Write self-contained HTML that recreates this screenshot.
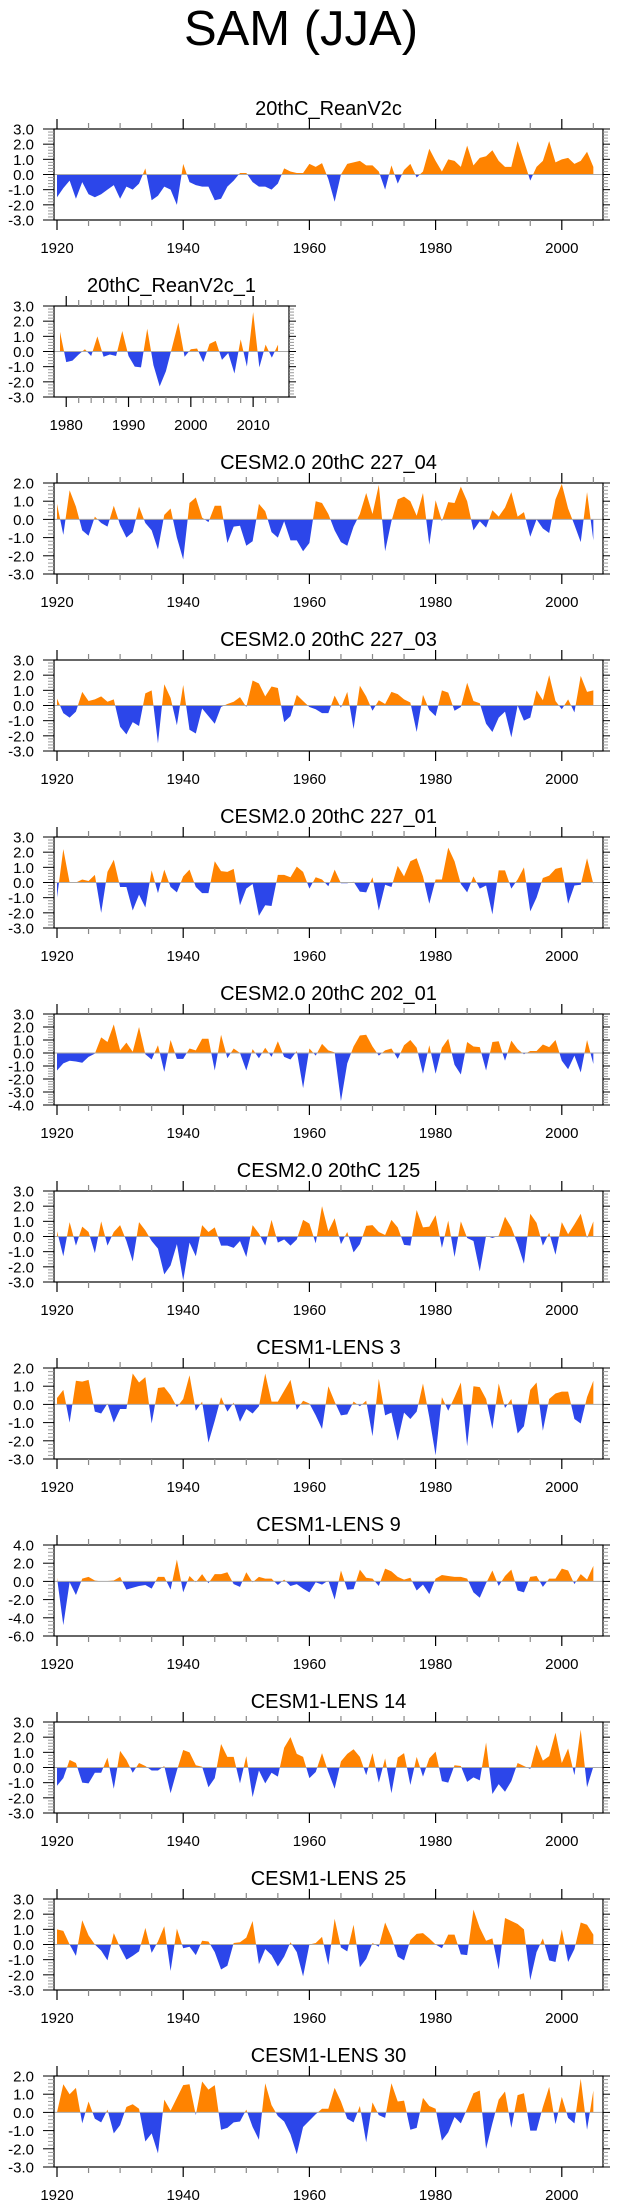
<!DOCTYPE html>
<html><head><meta charset="utf-8"><style>
html,body{margin:0;padding:0;background:#fff;}
svg{display:block;font-family:"Liberation Sans",Arial,sans-serif;}
</style></head><body>
<svg id="fig" width="623" height="2209" viewBox="0 0 623 2209" xmlns="http://www.w3.org/2000/svg">
<text x="301" y="45" font-size="49" text-anchor="middle">SAM (JJA)</text>
</svg>
<script>
const titles = ["20thC_ReanV2c","20thC_ReanV2c_1","CESM2.0 20thC 227_04","CESM2.0 20thC 227_03","CESM2.0 20thC 227_01","CESM2.0 20thC 202_01","CESM2.0 20thC 125","CESM1-LENS 3","CESM1-LENS 9","CESM1-LENS 14","CESM1-LENS 25","CESM1-LENS 30"];
const yMins = [-3,-3,-3,-3,-3,-4,-3,-3,-6,-3,-3,-3];
const yMaxs = [3,3,2,3,3,3,3,2,4,3,3,2];
const yStepsData = [1,1,1,1,1,1,1,1,2,1,1,1];
const s0 = [-1.5,-0.9,-0.4,-1.6,-0.5,-1.3,-1.5,-1.3,-1.0,-0.7,-1.6,-0.8,-1.0,-0.6,0.4,-1.7,-1.4,-0.8,-1.0,-2.0,0.7,-0.5,-0.7,-0.8,-0.8,-1.7,-1.6,-0.8,-0.4,0.1,0.1,-0.5,-0.8,-0.8,-1.0,-0.6,0.4,0.2,0.1,0.1,0.7,0.5,0.75,-0.3,-1.8,0.0,0.7,0.8,0.9,0.6,0.6,0.2,-1.0,0.6,-0.6,0.3,0.7,-0.2,0.2,1.7,0.9,0.2,1.0,0.9,0.5,1.9,0.6,1.1,1.2,1.6,0.9,0.5,0.5,2.2,0.9,-0.4,0.5,0.9,2.2,0.8,1.0,1.1,0.7,0.9,1.5,0.5];
const s1 = [1.3,-0.7,-0.6,-0.2,0.15,-0.3,1.0,-0.35,-0.2,-0.3,1.35,-0.3,-1.0,-1.05,1.5,-0.9,-2.3,-1.3,0.3,1.9,-0.35,0.15,0.2,-0.7,0.5,0.7,-0.55,-0.1,-1.45,0.8,-1.0,2.6,-1.05,0.45,-0.4,0.45];
const s2 = [0.85,-0.85,1.6,0.7,-0.6,-0.9,0.15,-0.2,-0.4,0.75,-0.3,-1.0,-0.7,0.7,-0.2,-0.6,-1.65,0.25,0.6,-1.0,-2.2,0.9,1.2,0.1,-0.15,0.75,0.75,-1.3,-0.4,-0.35,-1.45,-1.2,0.85,0.45,-0.7,-1.0,-0.1,-1.15,-1.15,-1.75,-1.3,1.0,0.9,0.3,-0.6,-1.25,-1.45,-0.4,0.3,1.45,0.3,1.9,-1.75,-0.1,1.1,1.25,1.0,0.2,1.45,-1.4,1.05,-0.1,0.95,0.9,1.8,1.0,-0.6,-0.1,-0.45,0.5,0.15,0.65,1.5,0.15,0.4,-0.95,0.0,-0.5,-0.75,1.1,1.95,0.6,-0.3,-1.25,1.5,-1.15];
const s3 = [0.45,-0.5,-0.8,-0.4,0.9,0.3,0.4,0.6,0.25,0.4,-1.4,-1.9,-1.1,-1.35,0.8,1.0,-2.5,1.4,0.5,-1.3,1.35,-1.6,-1.85,-0.2,-0.7,-1.2,-0.1,0.1,0.25,0.55,-0.1,1.65,1.45,0.6,1.25,1.15,-1.1,-0.7,0.7,0.3,-0.1,-0.25,-0.5,-0.5,0.65,-0.15,0.9,-1.55,1.3,0.6,-0.35,0.35,0.1,0.9,0.75,0.4,0.2,-1.75,0.7,-0.3,-0.7,1.0,0.85,-0.35,-0.1,1.5,0.3,0.15,-1.2,-1.75,-0.8,-0.4,-2.1,0.0,-1.0,-0.8,1.0,0.35,2.0,0.3,-0.25,0.4,-0.45,1.95,0.9,1.0];
const s4 = [-1.0,2.2,0.0,0.0,0.2,0.1,0.5,-2.0,0.7,1.5,-0.3,-0.3,-1.85,-0.8,-1.65,0.8,-0.7,0.85,-0.3,-0.65,0.4,0.85,-0.3,-0.7,-0.7,1.4,0.75,0.7,0.9,-1.5,-0.4,-0.1,-2.2,-1.5,-1.55,0.5,0.5,0.35,1.05,0.7,-0.4,0.35,0.2,-0.25,0.85,-0.05,-0.05,0.05,-0.6,-0.65,0.35,-1.85,-0.15,-0.3,1.1,0.4,1.4,1.6,0.4,-1.4,0.2,0.2,2.3,1.4,-0.1,-0.65,0.4,-0.4,-0.2,-2.1,0.8,0.8,-0.4,0.2,1.0,-1.9,-1.0,0.3,0.45,0.9,1.0,-1.4,-0.2,-0.15,1.6,-0.1];
const s5 = [-1.35,-0.8,-0.6,-0.65,-0.75,-0.3,-0.05,1.2,0.85,2.2,0.2,0.8,0.1,2.0,-0.1,-0.5,0.6,-1.45,1.0,-0.45,-0.45,0.35,0.2,1.1,1.1,-1.35,1.4,-0.4,0.35,0.0,-1.35,0.3,-0.4,0.4,-0.3,0.9,-0.3,-0.5,0.15,-2.7,0.35,-0.2,0.7,0.2,0.05,-3.7,-0.8,0.5,1.35,1.4,0.5,-0.2,0.2,0.35,-0.45,0.6,1.0,0.4,-1.6,0.6,-1.6,0.4,1.1,-0.9,-1.65,0.85,0.5,0.45,-1.35,0.85,0.9,-0.6,0.95,0.3,-0.1,0.15,0.15,0.65,0.45,1.0,-0.6,-1.25,-0.2,-1.5,1.0,-0.85];
const s6 = [0.35,-1.3,0.95,-0.6,0.65,0.3,-1.1,1.0,-0.6,0.3,0.75,-0.3,-1.65,0.95,0.4,-0.3,-0.8,-2.5,-1.9,-0.5,-2.9,-0.4,-1.3,0.75,0.3,0.6,-0.6,-0.6,-0.75,-0.3,-1.35,0.75,0.2,-0.6,1.1,-0.4,-0.2,-0.6,-0.2,1.1,0.85,-0.45,2.0,0.35,1.2,-0.5,0.3,-1.05,-0.5,0.7,0.75,0.3,0.1,1.1,0.6,-0.55,-0.6,1.75,0.6,0.65,1.4,-0.75,1.05,-1.35,1.0,-0.1,-0.3,-2.3,0.05,-0.1,0.05,1.3,0.6,-0.5,-1.8,1.5,0.9,-0.6,0.25,-1.2,0.95,0.15,0.8,1.5,-0.1,1.0];
const s7 = [0.35,0.8,-1.0,1.3,1.25,1.35,-0.4,-0.5,0.05,-1.0,-0.25,-0.25,1.7,1.2,1.5,-1.05,0.9,0.95,0.5,-0.15,0.3,1.6,-0.35,0.15,-2.1,-0.9,0.4,-0.4,0.1,-0.95,-0.25,-0.5,-0.1,1.7,0.15,0.15,0.75,1.35,-0.3,0.2,0.05,-0.6,-1.35,1.0,0.15,-0.6,-0.55,0.15,-0.1,0.2,-1.75,1.4,-0.6,-0.45,-2.0,-0.45,-0.8,-0.4,1.15,-0.7,-2.8,0.4,-0.35,0.4,1.2,-2.3,1.0,0.95,0.3,-1.35,1.15,-0.2,0.3,-1.6,-1.2,0.8,1.2,-1.45,0.3,0.6,0.7,0.7,-0.8,-1.05,0.4,1.3];
const s8 = [0.4,-4.8,-0.1,-1.5,0.3,0.5,0.1,0.0,0.05,0.1,0.5,-0.9,-0.7,-0.5,-0.4,-0.8,0.5,0.5,-0.9,2.4,-1.2,0.6,-0.1,0.8,-0.2,0.8,0.8,1.0,-0.3,-0.6,1.0,-0.1,0.5,0.3,0.3,-0.4,0.2,-0.5,-0.3,-0.8,-1.2,-0.1,-0.35,0.1,-2.0,1.2,-0.9,-0.85,1.3,0.4,0.3,-0.5,1.4,1.1,0.5,0.2,0.4,-1.0,-0.35,-1.4,0.3,0.7,0.6,0.5,0.5,0.3,-1.2,-1.8,-0.2,1.2,-0.5,0.6,1.3,-1.0,-1.2,0.5,0.6,-0.6,0.3,0.3,1.4,1.2,-0.3,0.8,0.2,1.7];
const s9 = [-1.2,-0.7,0.5,0.3,-1.0,-1.05,-0.35,-0.35,0.65,-1.4,1.1,0.5,-0.35,0.3,0.1,-0.2,-0.2,0.1,-1.7,-0.2,1.15,1.0,0.15,0.05,-1.3,-0.7,1.55,0.7,0.7,-1.05,0.75,-1.95,-0.2,-1.05,-0.35,-0.6,1.3,2.0,0.9,0.7,-0.7,-0.3,0.95,-0.3,-1.4,0.4,0.9,1.2,0.7,-0.5,0.95,-1.0,0.6,-1.7,0.65,0.95,-1.15,0.7,-0.6,0.6,1.05,-0.9,-1.0,0.15,0.1,-0.95,-0.65,-0.85,1.65,-1.75,-1.1,-1.6,-0.9,0.3,0.1,-0.1,1.5,0.45,0.75,2.3,0.3,1.25,-0.5,2.5,-1.3,0.05];
const s10 = [1.0,0.9,0.0,-0.75,1.6,0.6,0.0,-0.4,-1.05,0.75,-0.2,-1.0,-0.75,-0.45,1.1,-0.55,0.2,1.2,-1.75,1.05,-0.25,-0.15,-0.7,0.25,0.2,-0.5,-1.65,-1.4,0.1,0.15,0.45,1.55,-1.3,-0.3,-0.7,-1.45,-0.8,0.15,-0.5,-2.1,0.0,0.1,0.5,-1.35,1.7,-0.2,-0.45,1.3,-1.5,-0.95,0.1,-0.15,1.45,0.5,-0.8,-1.05,0.3,0.7,0.75,0.4,0.0,-0.25,0.65,0.65,-0.65,-0.7,2.3,1.1,0.25,0.4,-1.65,1.75,1.55,1.35,1.0,-2.35,-0.5,0.4,-1.05,-1.15,1.0,-1.15,-0.3,1.45,1.3,0.65];
const s11 = [0.0,1.55,1.0,1.35,-0.6,0.6,-0.35,-0.55,0.15,-1.15,-0.7,0.3,0.45,0.2,-1.6,-1.15,-2.25,0.7,0.1,0.8,1.5,1.55,-0.15,1.7,1.25,1.5,-0.95,-0.85,-0.55,-0.5,0.15,-0.8,-1.5,1.6,0.4,-0.2,-0.5,-1.2,-2.3,-0.8,-0.45,-0.1,0.2,0.2,1.35,0.6,-0.35,-0.55,0.35,-1.65,0.55,-0.15,-0.3,1.6,0.6,0.65,-0.95,-0.85,0.8,0.35,0.2,-1.55,-1.1,-0.25,-0.6,0.2,1.05,1.2,-2.0,-0.6,0.7,1.15,-0.85,0.95,1.05,-1.0,-1.0,0.3,1.4,-0.65,0.85,-0.3,-0.6,1.85,-0.95,1.2];
const seriesList = [s0,s1,s2,s3,s4,s5,s6,s7,s8,s9,s10,s11];
const startYears = [1920,1979,1920,1920,1920,1920,1920,1920,1920,1920,1920,1920];
const xTickLabels = [[1920,1940,1960,1980,2000],[1980,1990,2000,2010]];

const NS = "http://www.w3.org/2000/svg";
const svg = document.getElementById("fig");
function mk(tag, attrs, parent){ const e=document.createElementNS(NS,tag); for(const k in attrs) e.setAttribute(k,attrs[k]); (parent||svg).appendChild(e); return e; }

seriesList.forEach((data, p) => {
  const narrow = p === 1;
  const top = 129 + 177*p, H = 91, bot = top + H;
  const left = 54, right = narrow ? 289 : 603;
  const y0yr = narrow ? 1979 : 1920;
  const x0 = narrow ? 60 : 57;
  const pxYr = narrow ? 6.23 : 6.31;
  const xs = yr => x0 + (yr - y0yr)*pxYr;
  const ymin = yMins[p], ymax = yMaxs[p];
  const ys = v => top + (ymax - v)/(ymax - ymin)*H;
  const g = mk("g", {});
  
  
  const cx = (left+right)/2;
  const t = mk("text", {x:cx, y:top-14, "font-size":20, "text-anchor":"middle"}, g);
  t.textContent = titles[p];
  
  
  const cid = "c"+p;
  const defs = mk("defs", {}, g);
  const cpA = mk("clipPath", {id:cid+"a"}, defs);
  mk("rect", {x:left, y:top, width:right-left, height:ys(0)-top}, cpA);
  const cpB = mk("clipPath", {id:cid+"b"}, defs);
  mk("rect", {x:left, y:ys(0), width:right-left, height:bot-ys(0)}, cpB);
  let pts = [];
  data.forEach((v,i) => { pts.push(xs(startYears[p]+i).toFixed(2)+","+ys(v).toFixed(2)); });
  const xa = xs(startYears[p]), xb = xs(startYears[p]+data.length-1);
  const poly = xa.toFixed(2)+","+ys(0)+" "+pts.join(" ")+" "+xb.toFixed(2)+","+ys(0);
  const pos = mk("polygon", {points:poly, fill:"#ff8300", "clip-path":"url(#"+cid+"a)"}, g);
  
  
  const neg = mk("polygon", {points:poly, fill:"#2c46ea", "clip-path":"url(#"+cid+"b)"}, g);
  
  
  const zl = mk("line", {x1:left, x2:right, y1:ys(0), y2:ys(0), stroke:"#aaa", "stroke-width":1}, g);
  
  
  const fr = mk("rect", {x:left, y:top, width:right-left, height:H, fill:"none", stroke:"#000", "stroke-width":1.2}, g);
  
  
  const step = yStepsData[p];
  for (let v = ymin; v <= ymax + 1e-9; v += step/5) {
    const major = Math.abs(Math.round(v/step)*step - v) < 1e-6;
    const L = major ? 11 : 6, col = major ? "#000" : "#999";
    mk("line", {x1:left-L, x2:left, y1:ys(v), y2:ys(v), stroke:col, "stroke-width":1}, g);
    mk("line", {x1:right, x2:right+(major?7:5), y1:ys(v), y2:ys(v), stroke:col, "stroke-width":1}, g);
  }
  for (let v = ymin; v <= ymax + 1e-9; v += step) {
    const s = v.toFixed(1);
    const tl = mk("text", {x:34, y:ys(v)+5.5, "font-size":15, "text-anchor":"end"}, g);
    tl.textContent = s;
    
    
  }
  const yrA = narrow ? 1979 : 1920, yrB = narrow ? 2015 : 2006;
  const minorStep = narrow ? 2 : 5, majorStep = narrow ? 10 : 20;
  for (let yr = Math.ceil(yrA/minorStep)*minorStep; yr <= yrB; yr += minorStep) {
    const major = yr % majorStep === 0;
    const L = major ? 10 : 6, col = major ? "#000" : "#888";
    const x = xs(yr);
    mk("line", {x1:x, x2:x, y1:top-L, y2:top, stroke:col, "stroke-width":1.2}, g);
    mk("line", {x1:x, x2:x, y1:bot, y2:bot+L, stroke:col, "stroke-width":1.2}, g);
  }
  xTickLabels[narrow ? 1 : 0].forEach(yr => {
    const tl = mk("text", {x:xs(yr), y:bot+33, "font-size":15, "text-anchor":"middle"}, g);
    tl.textContent = yr;
    
    
  });
});
</script>
</body></html>
